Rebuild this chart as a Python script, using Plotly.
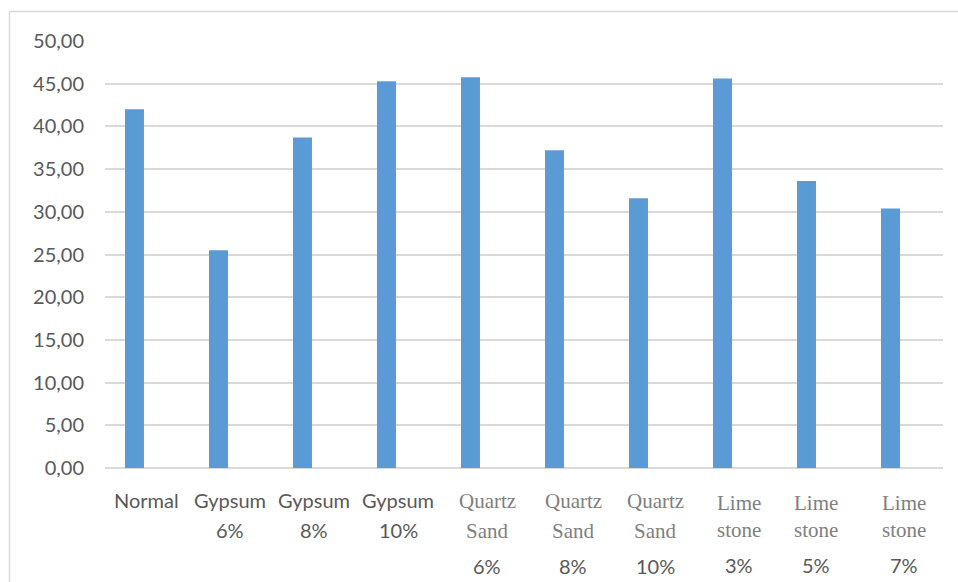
import plotly.graph_objects as go

# ---- data ----
categories = ["Normal", "Gypsum 6%", "Gypsum 8%", "Gypsum 10%",
              "Quartz Sand 6%", "Quartz Sand 8%", "Quartz Sand 10%",
              "Lime stone 3%", "Lime stone 5%", "Lime stone 7%"]
values = [42.0, 25.5, 38.7, 45.3, 45.75, 37.2, 31.6, 45.6, 33.6, 30.4]
label_lines = [
    ["Normal"],
    ["Gypsum", "6%"],
    ["Gypsum", "8%"],
    ["Gypsum", "10%"],
    ["Quartz", "Sand", "6%"],
    ["Quartz", "Sand", "8%"],
    ["Quartz", "Sand", "10%"],
    ["Lime", "stone", "3%"],
    ["Lime", "stone", "5%"],
    ["Lime", "stone", "7%"],
]
y_ticks = [0, 5, 10, 15, 20, 25, 30, 35, 40, 45, 50]
y_ticktext = ["0,00", "5,00", "10,00", "15,00", "20,00", "25,00",
              "30,00", "35,00", "40,00", "45,00", "50,00"]

# ---- styles ----
BAR = "#5B9BD5"
GRID = "#D9D9D9"
TXT = "#595959"
TXT_SERIF = "#7F7F7F"
SANS = "Lato"
SERIF = "Liberation Serif"
label_dx = [12, 12, 12, 12, 17, 19, 17, 16, 9, 13]

xs = list(range(len(categories)))
fig = go.Figure(go.Bar(x=xs, y=values, marker=dict(color=BAR, line=dict(width=0)),
                       width=0.226))

annotations = []
for i, lines in enumerate(label_lines):
    if len(lines) <= 2:
        shifts = [-32, -62]
        fonts = [SANS, SANS]
    else:
        if lines[0] == "Quartz":
            shifts = [-33, -63, -98]
        else:
            shifts = [-35, -62, -97]
        fonts = [SERIF, SERIF, SANS]
    for j, t in enumerate(lines):
        is_sans = fonts[j] == SANS
        annotations.append(dict(
            x=i, y=0, xref="x", yref="y", text=t, showarrow=False,
            xanchor="center", yanchor="middle",
            xshift=label_dx[i], yshift=shifts[j],
            font=dict(family=fonts[j], size=20 if is_sans else 21,
                      color=TXT if is_sans else TXT_SERIF),
        ))

W, H = 958, 582
L, R, T, B = 105, 15, 41, 114
pw, ph = W - L - R, H - T - B

def px_to_paper_x(px):
    return (px - L) / pw

def py_to_paper_y(py):
    return (H - B - py) / ph

fig.update_layout(
    width=W, height=H,
    margin=dict(l=L, r=R, t=T, b=B, pad=0),
    paper_bgcolor="white", plot_bgcolor="white",
    showlegend=False,
    annotations=annotations,
    xaxis=dict(range=[-0.351, 9.625], showticklabels=False, showgrid=False,
               zeroline=False, showline=False, ticks="", fixedrange=True),
    yaxis=dict(range=[0, 50], tickvals=y_ticks, ticktext=y_ticktext,
               showgrid=True, gridcolor=GRID, gridwidth=1.5,
               zeroline=True, zerolinecolor=GRID, zerolinewidth=1.5,
               showline=False, ticks="", ticklabelstandoff=20,
               tickfont=dict(family=SANS, size=20, color=TXT), fixedrange=True),
    shapes=[dict(type="rect", xref="paper", yref="paper",
                 x0=px_to_paper_x(9.5), x1=px_to_paper_x(962),
                 y0=py_to_paper_y(11.5), y1=py_to_paper_y(590),
                 line=dict(color=GRID, width=1.5), fillcolor="rgba(0,0,0,0)",
                 layer="below")],
)

fig.write_html("out.html")
